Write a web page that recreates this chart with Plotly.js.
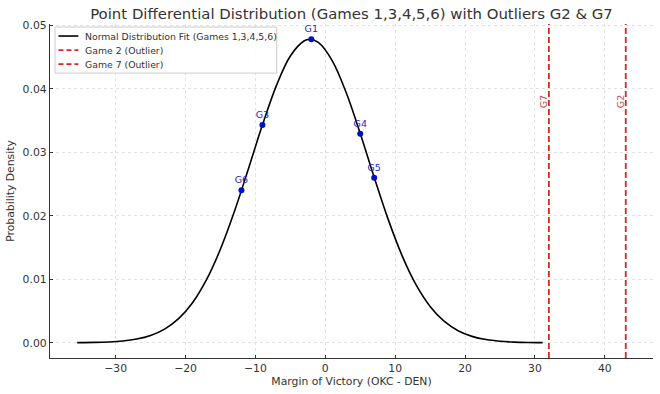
<!DOCTYPE html>
<html>
<head>
<meta charset="utf-8">
<script src="https://cdn.plot.ly/plotly-3.0.1.min.js"></script>
<style>html,body{margin:0;padding:0;background:#fff;}#chart{width:660px;height:394px;}</style>
</head>
<body>
<div id="chart"></div>
<script>
// Normal fit curve
var curveX = [-35.5,-33,-31,-29,-27,-25,-23,-21,-19,-17,-15,-13,-11,-9,-7,-5,-3,-2.2,-1,1,3,5,7,9,11,13,15,17,19,21,23,25,27,29,31.1];
var curveY = [0.0000168,0.000053,0.0001245,0.000277,0.00058,0.001147,0.002146,0.003789,0.006307,0.009929,0.01476,0.0207,0.02742,0.03429,0.0405,0.04517,0.04756,0.04778,0.04729,0.0444,0.03936,0.03294,0.02604,0.01943,0.01369,0.00911,0.00572,0.00339,0.0019,0.001006,0.000502,0.000237,0.000106,0.0000443,0.0000168];
var curveName = "Normal Distribution Fit (Games 1,3,4,5,6)";

// Games used in fit
var gameLabels = ["G1","G3","G4","G5","G6"];
var gameMargins = [-2, -9, 5, 7, -12];
var gameDensity = [0.0478, 0.0343, 0.0329, 0.0260, 0.0240];

// Outliers
var outlierLabels = ["G2","G7"];
var outlierNames = ["Game 2 (Outlier)","Game 7 (Outlier)"];
var outlierMargins = [43, 32];

var xRange = [-39.4, 46.9];
var yRange = [-0.0024, 0.0502];
var xTicks = [-30,-20,-10,0,10,20,30,40];
var yTicks = [0,0.01,0.02,0.03,0.04,0.05];

var red = "#d62728";
var FONT = "DejaVu Sans";
var traces = [{
  x: curveX, y: curveY, type: "scatter", mode: "lines",
  line: {color: "#000", width: 1.6, shape: "spline"},
  name: curveName, showlegend: false
}];
outlierMargins.forEach(function(m, i){
  traces.push({
    x: [m, m], y: [yRange[0], yRange[1]], type: "scatter", mode: "lines",
    line: {color: red, width: 1.8, dash: "6px,3px"},
    name: outlierNames[i], showlegend: false
  });
});
traces.push({
  x: gameMargins, y: gameDensity, type: "scatter", mode: "markers+text",
  marker: {color: "#0010c8", size: 6},
  text: gameLabels, textposition: "top center",
  textfont: {family: FONT, size: 9.5, color: "#2a2ab0"},
  showlegend: false, hoverinfo: "skip"
});

var annotations = outlierMargins.map(function(m, i){
  return {x: m, y: 0.038, xref: "x", yref: "y", text: outlierLabels[i],
    showarrow: false, textangle: -90, xshift: -5,
    font: {family: FONT, size: 9.5, color: "#cc4444"}};
});

// Custom compact legend (paper coordinates)
var legendNames = [curveName, outlierNames[0], outlierNames[1]];
var legendStyles = [{color: "#000", width: 1.6, dash: "solid"},
                    {color: red, width: 1.8, dash: "5px,3px"},
                    {color: red, width: 1.8, dash: "5px,3px"}];
var legendRowsY = [0.964, 0.922, 0.880];
var shapes = [{type: "rect", xref: "paper", yref: "paper", x0: 0.0083, x1: 0.376, y0: 0.853, y1: 0.991,
  line: {color: "#cccccc", width: 1}, fillcolor: "rgba(255,255,255,0.9)", layer: "above"}];
legendNames.forEach(function(n, i){
  shapes.push({type: "line", xref: "paper", yref: "paper", x0: 0.014, x1: 0.047,
    y0: legendRowsY[i], y1: legendRowsY[i], line: legendStyles[i], layer: "above"});
  annotations.push({xref: "paper", yref: "paper", x: 0.055, y: legendRowsY[i], text: n,
    xanchor: "left", yanchor: "middle", showarrow: false,
    font: {family: FONT, size: 9.3, color: "#333"}});
});

var tickTextX = xTicks.map(function(v){ return v < 0 ? "\u2212" + Math.abs(v) : String(v); });
var tickTextY = yTicks.map(function(v){ return v.toFixed(2); });

var layout = {
  width: 660, height: 394,
  margin: {l: 50, r: 7, t: 24, b: 36},
  paper_bgcolor: "#fff", plot_bgcolor: "#fff",
  font: {family: FONT, color: "#333"},
  title: {text: "Point Differential Distribution (Games 1,3,4,5,6) with Outliers G2 & G7",
    font: {family: FONT, size: 14.9, color: "#333"},
    x: 0.5, xref: "paper", y: 0.966, yref: "container", yanchor: "middle"},
  xaxis: {range: xRange, tickvals: xTicks, ticktext: tickTextX,
    showgrid: true, gridcolor: "#e2e2e2", griddash: "dot", gridwidth: 1,
    zeroline: false, showline: true, linecolor: "#333", linewidth: 1.2,
    ticks: "inside", ticklen: 3, tickcolor: "#333",
    tickfont: {family: FONT, size: 10.8, color: "#333"},
    title: {text: "Margin of Victory (OKC - DEN)", standoff: 3,
      font: {family: FONT, size: 10.8, color: "#333"}}},
  yaxis: {range: yRange, tickvals: yTicks, ticktext: tickTextY,
    showgrid: true, gridcolor: "#e2e2e2", griddash: "dot", gridwidth: 1,
    zeroline: false, showline: true, linecolor: "#333", linewidth: 1.2,
    ticks: "inside", ticklen: 3, tickcolor: "#333",
    tickfont: {family: FONT, size: 10.8, color: "#333"},
    title: {text: "Probability Density", standoff: 5,
      font: {family: FONT, size: 10.8, color: "#333"}}},
  showlegend: false,
  shapes: shapes,
  annotations: annotations
};

Plotly.newPlot("chart", traces, layout, {displayModeBar: false, staticPlot: true});
</script>
</body>
</html>
